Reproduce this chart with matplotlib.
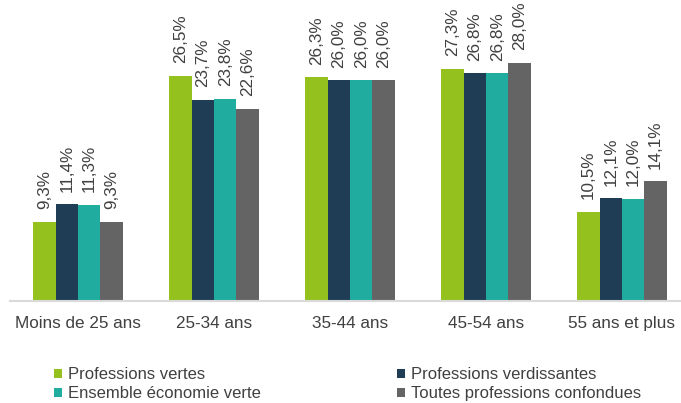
import matplotlib.pyplot as plt
import numpy as np

plt.rcParams['font.family'] = ['Liberation Sans', 'DejaVu Sans']

# tranches d'age
categories = ['Moins de 25 ans', '25-34 ans', '35-44 ans', '45-54 ans', '55 ans et plus']
series_names = ['Professions vertes', 'Professions verdissantes',
                'Ensemble économie verte', 'Toutes professions confondues']
vertes = [9.3, 26.5, 26.3, 27.3, 10.5]
verdissantes = [11.4, 23.7, 26.0, 26.8, 12.1]
ensemble = [11.3, 23.8, 26.0, 26.8, 12.0]
toutes = [9.3, 22.6, 26.0, 28.0, 14.1]
colors = ['#95C11F', '#1F3D55', '#20ADA0', '#646464']

W, H = 681, 403
fs = 12.3
fig = plt.figure(figsize=(W / 100, H / 100), dpi=100)
ax = fig.add_axes([10 / W, 102 / H, 680 / W, 255 / H])

x = np.arange(len(categories))
bw = 0.165
series = [vertes, verdissantes, ensemble, toutes]
bars = []
for i, (vals, col) in enumerate(zip(series, colors)):
    pos = x + (i - 1.5) * bw
    b = ax.bar(pos, vals, bw, color=col, label=series_names[i])
    bars.append(b)
    for p, v in zip(pos, vals):
        ax.annotate(f'{v:.1f}%'.replace('.', ','), (p, v), xytext=(0, 9),
                    textcoords='offset points', rotation=90, ha='center',
                    va='bottom', fontsize=fs, color='#404040',
                    annotation_clip=False)

ax.set_xlim(-0.5, 4.5)
ax.set_ylim(0, 30)
ax.set_yticks([])
ax.set_xticks(x)
ax.set_xticklabels(categories, fontsize=fs, color='#404040')
ax.tick_params(axis='x', length=0, pad=11)
for s in ['top', 'right', 'left']:
    ax.spines[s].set_visible(False)
ax.spines['bottom'].set_color('#D9D9D9')
ax.spines['bottom'].set_linewidth(1.5)

handles = [bars[0], bars[2], bars[1], bars[3]]
labels = [series_names[0], series_names[2], series_names[1], series_names[3]]
fig.legend(handles, labels, loc='upper left', bbox_to_anchor=(46 / W, 1 - 359 / H),
           ncol=2, frameon=False, fontsize=12, handlelength=0.45, handleheight=0.45,
           handletextpad=0.35, columnspacing=8.2, labelspacing=0.22,
           borderpad=0, labelcolor='#404040')

fig.savefig('out.png', dpi=100)
